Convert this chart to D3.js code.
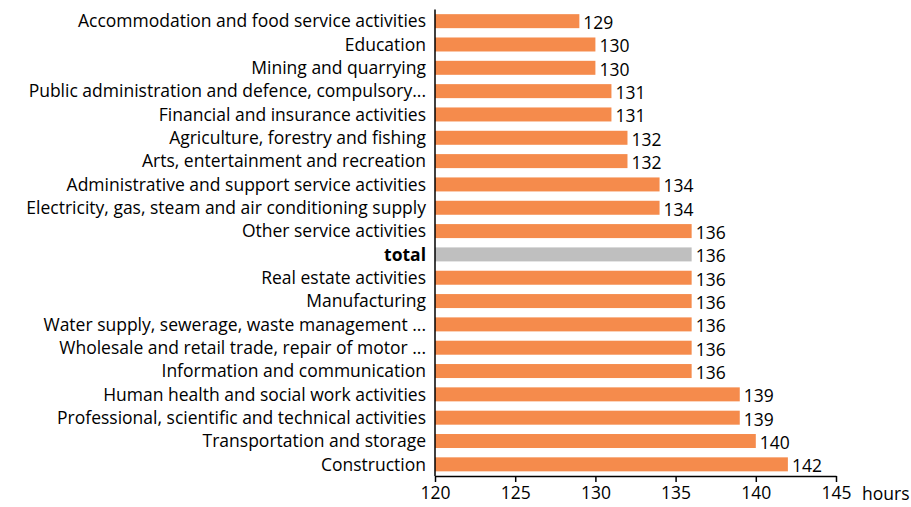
<!DOCTYPE html>
<html>
<head>
<meta charset="utf-8">
<script src="https://cdn.jsdelivr.net/npm/d3@7"></script>
<style>
body{margin:0;background:#fff;}
svg text{font-family:"Open Sans",sans-serif;fill:#000;}
</style>
</head>
<body>
<svg id="chart" width="911" height="507"></svg>
<script>
var categories = [
	"Accommodation and food service activities",
	"Education",
	"Mining and quarrying",
	"Public administration and defence, compulsory...",
	"Financial and insurance activities",
	"Agriculture, forestry and fishing",
	"Arts, entertainment and recreation",
	"Administrative and support service activities",
	"Electricity,  gas, steam and air conditioning supply",
	"Other service activities",
	"total",
	"Real estate activities",
	"Manufacturing",
	"Water supply, sewerage, waste management ...",
	"Wholesale and retail trade, repair of motor ...",
	"Information and communication",
	"Human health and social work activities",
	"Professional, scientific and technical activities",
	"Transportation and storage",
	"Construction"
];
var hours = [129,130,130,131,131,132,132,134,134,136,136,136,136,136,136,136,139,139,140,142];
var xTicks = [120,125,130,135,140,145];

(function(){
var svg = d3.select("#chart");
var plotL = 435, plotR = 836, plotT = 9.5, plotB = 476;
var fontSize = "17.5px";
var x = d3.scaleLinear().domain([120,145]).range([plotL,plotR]);
var y = d3.scaleBand().domain(categories).range([plotT,plotB]).paddingInner(0.4).paddingOuter(0.2);

var items = categories.map(function(c, i){ return {name: c, value: hours[i]}; });

svg.append("g").selectAll("rect").data(items).enter().append("rect")
	.attr("x", x(120))
	.attr("y", function(d){ return y(d.name); })
	.attr("width", function(d){ return x(d.value) - x(120); })
	.attr("height", y.bandwidth())
	.attr("fill", function(d){ return d.name == "total" ? "#bfbfbf" : "#f58b4c"; });

svg.append("g").selectAll("text").data(items).enter().append("text")
	.attr("x", function(d){ return x(d.value) + 4; })
	.attr("y", function(d){ return y(d.name) + y.bandwidth() / 2; })
	.attr("dy", "0.45em")
	.style("font-size", fontSize)
	.text(function(d){ return d.value; });

svg.append("g").selectAll("text").data(items).enter().append("text")
	.attr("x", plotL - 9)
	.attr("y", function(d){ return y(d.name) + y.bandwidth() / 2; })
	.attr("dy", "0.36em")
	.attr("text-anchor", "end")
	.style("font-size", fontSize)
	.style("font-weight", function(d){ return d.name == "total" ? "bold" : "normal"; })
	.text(function(d){ return d.name; });

var xAxis = svg.append("g").attr("transform", "translate(0," + plotB + ")")
	.call(d3.axisBottom(x).tickValues(xTicks).tickSize(6).tickPadding(5).tickSizeOuter(0));
xAxis.attr("font-family", null);
xAxis.select(".domain").attr("stroke", "#000").attr("stroke-width", 1.5);
xAxis.selectAll(".tick line").attr("stroke", "#000").attr("stroke-width", 1.5);
xAxis.selectAll("text").style("font-size", fontSize);

svg.append("line")
	.attr("x1", plotL).attr("x2", plotL)
	.attr("y1", plotT).attr("y2", plotB)
	.attr("stroke", "#000").attr("stroke-width", 1.5);

svg.append("text")
	.attr("x", 862).attr("y", 500)
	.style("font-size", fontSize)
	.text("hours");
})();
</script>
</body>
</html>
